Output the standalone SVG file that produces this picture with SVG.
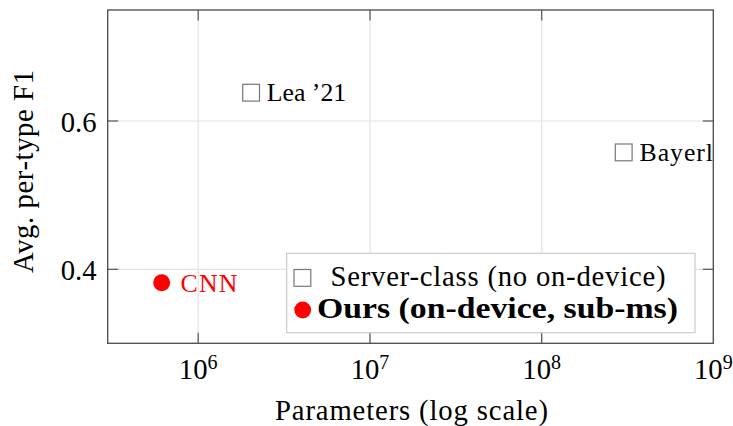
<svg xmlns="http://www.w3.org/2000/svg" width="733" height="426" viewBox="0 0 733 426">
<style>
text{font-family:"Liberation Serif","Times New Roman",serif;fill:#000}
.tick{font-size:28.7px}
.sup{font-size:20px}
.lbl{font-size:25.8px}
.grid{stroke:#e2e2e2;stroke-width:1.2}
.axis{fill:none;stroke:#555;stroke-width:1.4}
.tk{stroke:#555;stroke-width:1.2}
.sq{fill:#fff;stroke:#777;stroke-width:1.2}
.dot{fill:#f00}
</style>
<rect width="733" height="426" fill="#fff"/>
<g id="grid">
<line class="grid" x1="198.2" y1="10" x2="198.2" y2="343.3"/>
<line class="grid" x1="370" y1="10" x2="370" y2="343.3"/>
<line class="grid" x1="541.7" y1="10" x2="541.7" y2="343.3"/>
<line class="grid" x1="107.7" y1="121" x2="713.3" y2="121"/>
<line class="grid" x1="107.7" y1="269.3" x2="713.3" y2="269.3"/>
</g>
<g id="ticks">
<line class="tk" x1="198.2" y1="10" x2="198.2" y2="20.5"/>
<line class="tk" x1="370" y1="10" x2="370" y2="20.5"/>
<line class="tk" x1="541.7" y1="10" x2="541.7" y2="20.5"/>
<line class="tk" x1="198.2" y1="343.3" x2="198.2" y2="332.8"/>
<line class="tk" x1="370" y1="343.3" x2="370" y2="332.8"/>
<line class="tk" x1="541.7" y1="343.3" x2="541.7" y2="332.8"/>
<line class="tk" x1="107.7" y1="121" x2="118.2" y2="121"/>
<line class="tk" x1="107.7" y1="269.3" x2="118.2" y2="269.3"/>
<line class="tk" x1="713.3" y1="121" x2="702.8" y2="121"/>
<line class="tk" x1="713.3" y1="269.3" x2="702.8" y2="269.3"/>
</g>
<rect id="frame" class="axis" x="107.7" y="10" width="605.6" height="333.3"/>
<g id="xticklabels" class="tick" text-anchor="middle">
<text x="198.2" y="378.5" class="tick">10<tspan class="sup" dy="-10">6</tspan></text>
<text x="370" y="378.5" class="tick">10<tspan class="sup" dy="-10">7</tspan></text>
<text x="541.7" y="378.5" class="tick">10<tspan class="sup" dy="-10">8</tspan></text>
<text x="713.3" y="378.5" class="tick">10<tspan class="sup" dy="-10">9</tspan></text>
</g>
<g id="yticklabels" text-anchor="end">
<text x="96.5" y="131.5" class="tick">0.6</text>
<text x="96.5" y="279.5" class="tick">0.4</text>
</g>
<text id="xlabel" class="tick" x="411.5" y="419.5" text-anchor="middle" textLength="273" lengthAdjust="spacing">Parameters (log scale)</text>
<text id="ylabel" class="tick" transform="translate(33,171.5) rotate(-90)" x="0" y="0" text-anchor="middle" textLength="203" lengthAdjust="spacing">Avg. per-type F1</text>
<g id="lea21">
<rect class="sq" x="242.7" y="84.3" width="16.8" height="16.8"/>
<text class="lbl" x="266.7" y="101">Lea ’21</text>
</g>
<g id="bayerl">
<rect class="sq" x="615.3" y="144" width="16.8" height="16.8"/>
<text class="lbl" x="639.5" y="160.5" textLength="73.5" lengthAdjust="spacing">Bayerl</text>
</g>
<g id="cnn">
<circle class="dot" cx="161.7" cy="282.7" r="8.5"/>
<text class="lbl" x="180.5" y="291.7" fill="#f00" style="fill:#f00" textLength="57" lengthAdjust="spacing">CNN</text>
</g>
<g id="legend">
<rect x="286.7" y="253.3" width="408.3" height="79.4" fill="#fff" stroke="#cccccc" stroke-width="1.2"/>
<rect class="sq" x="294" y="269.5" width="16.8" height="16.8"/>
<text class="tick" x="330.5" y="285.5" textLength="335" lengthAdjust="spacing">Server-class (no on-device)</text>
<circle class="dot" cx="302.7" cy="310" r="8.4"/>
<text class="tick" x="317" y="317.7" font-weight="bold" textLength="361" lengthAdjust="spacingAndGlyphs">Ours (on-device, sub-ms)</text>
</g>
</svg>
